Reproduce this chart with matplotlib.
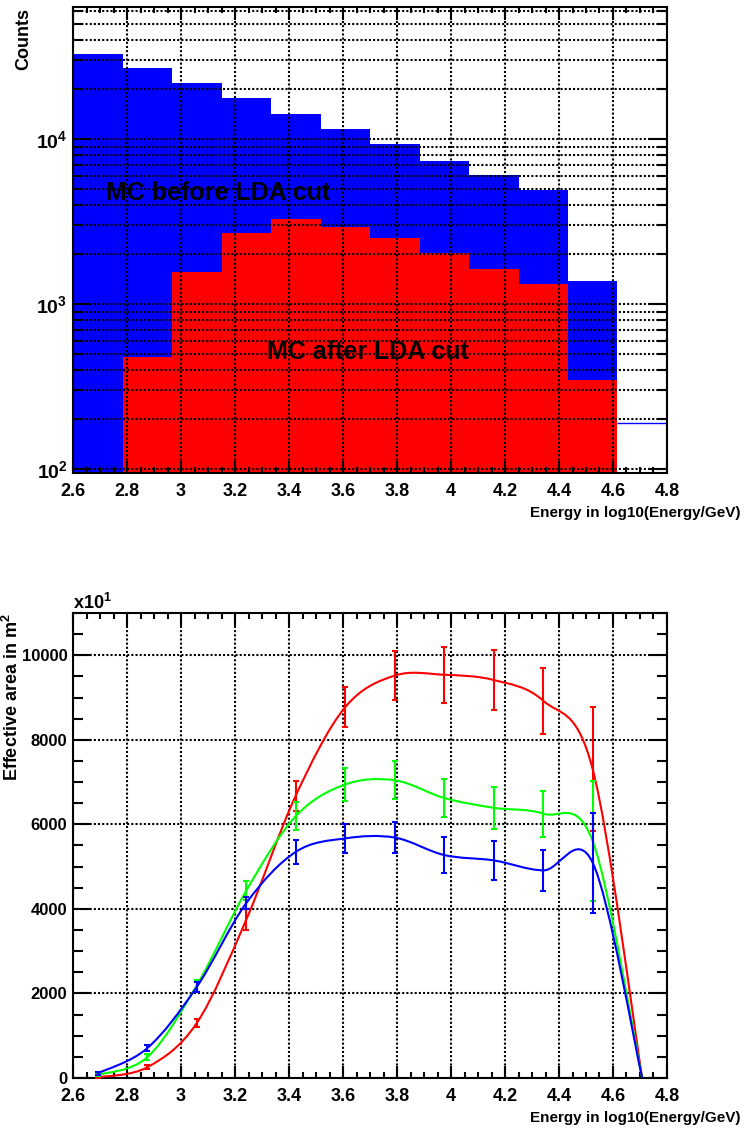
import numpy as np
import matplotlib
matplotlib.use('Agg')
import matplotlib.pyplot as plt
from matplotlib.path import Path
from matplotlib.patches import PathPatch
from matplotlib.ticker import MultipleLocator, LogLocator, NullFormatter, FormatStrFormatter

plt.rcParams['font.family'] = ['Liberation Sans Narrow', 'Liberation Sans', 'DejaVu Sans']
plt.rcParams['font.weight'] = 'bold'
plt.rcParams['mathtext.fontset'] = 'custom'
plt.rcParams['mathtext.rm'] = 'Liberation Sans:bold'
plt.rcParams['mathtext.it'] = 'Liberation Sans:bold'
plt.rcParams['mathtext.bf'] = 'Liberation Sans:bold'

# histogram of log10(E/GeV), 12 bins from 2.6 to 4.8
bin_edges = np.linspace(2.6, 4.8, 13)
counts_before = [32700, 27000, 21800, 17700, 14100, 11450, 9330, 7380, 6030, 4910, 1384, 190]
counts_after = [0, 475, 1570, 2680, 3275, 2945, 2520, 2030, 1623, 1322, 343, 0]

# effective area (units of 10 m^2)
energy = [2.692, 2.875, 3.058, 3.242, 3.425, 3.608, 3.792, 3.975, 4.158, 4.342, 4.525, 4.708]
area_red = [15, 253, 1296, 3750, 6680, 8770, 9520, 9538, 9415, 8922, 7300, 0]
err_red = [20, 50, 100, 250, 355, 474, 572, 659, 699, 782, 1465, 0]
area_green = [71, 490, 2185, 4435, 6192, 6943, 7042, 6623, 6391, 6251, 5600, 0]
err_green = [25, 70, 140, 215, 332, 395, 453, 455, 498, 549, 1422, 0]
area_blue = [111, 704, 2150, 4139, 5348, 5668, 5687, 5273, 5147, 4910, 5090, 0]
err_blue = [30, 65, 110, 150, 276, 344, 375, 422, 454, 494, 1185, 0]

BLUE = '#0000ff'
RED = '#ff0000'
GREEN = '#00ff00'
grid_kw = dict(color='black', linestyle=(0, (1, 1)), linewidth=1.5)


# smooth curve through the points (like ROOT's "C" option)
def smooth_path(x, y):
    pts = np.column_stack([np.asarray(x, float), np.asarray(y, float)])
    ext = np.vstack([pts[0], pts, pts[-1]])
    verts = [pts[0]]
    codes = [Path.MOVETO]
    for i in range(len(pts) - 1):
        p0, p1, p2, p3 = ext[i], ext[i + 1], ext[i + 2], ext[i + 3]
        verts += [p1 + (p2 - p0) / 6, p2 - (p3 - p1) / 6, p2]
        codes += [Path.CURVE4] * 3
    return Path(verts, codes)


def style_axes(ax):
    for s in ax.spines.values():
        s.set_linewidth(1.5)
    ax.tick_params(which='both', direction='in', top=True, right=True, width=1.5)
    ax.tick_params(axis='x', which='major', length=9, pad=7, labelsize=13)
    ax.tick_params(axis='x', which='minor', length=4.5)
    ax.tick_params(axis='y', which='major', length=13, pad=4, labelsize=12)
    ax.tick_params(axis='y', which='minor', length=7)
    ax.xaxis.set_major_locator(MultipleLocator(0.2))
    ax.xaxis.set_minor_locator(MultipleLocator(0.05))
    ax.xaxis.set_major_formatter(FormatStrFormatter('%g'))


fig = plt.figure(figsize=(7.45, 11.36), dpi=100)

# ---- top panel: counts ----
ax1 = fig.add_axes([0.098, 0.5836, 0.7973, 0.4102])
lefts = bin_edges[:-1]
width = bin_edges[1] - bin_edges[0]
ax1.bar(lefts[:11], counts_before[:11], width=width, align='edge', color=BLUE, bottom=1, zorder=1)
ax1.hlines(counts_before[11], bin_edges[11], bin_edges[12], color=BLUE, linewidth=1, zorder=1)
ax1.bar(lefts[1:11], counts_after[1:11], width=width, align='edge', color=RED, bottom=1, zorder=1)
ax1.set_yscale('log')
ax1.set_xlim(2.6, 4.8)
ax1.set_ylim(94.6, 63000)
style_axes(ax1)
ax1.yaxis.set_major_locator(LogLocator(base=10))
ax1.yaxis.set_minor_locator(LogLocator(base=10, subs=np.arange(2, 10)))
ax1.yaxis.set_minor_formatter(NullFormatter())
ax1.tick_params(axis='y', which='major', labelsize=14)
ax1.set_axisbelow(False)
ax1.grid(True, which='major', axis='x', **grid_kw)
ax1.grid(True, which='both', axis='y', **grid_kw)
ax1.text(3.137, 4710, 'MC before LDA cut', fontsize=18, ha='center', va='center', zorder=4)
ax1.text(3.693, 512, 'MC after LDA cut', fontsize=18, ha='center', va='center', zorder=4)
ax1.text(-0.083, 0.998, 'Counts', transform=ax1.transAxes, rotation=90, ha='center', va='top',
         fontsize=13)
ax1.text(1.123, -0.086, 'Energy in log10(Energy/GeV)', transform=ax1.transAxes,
         ha='right', va='center', fontsize=11)

# ---- bottom panel: effective area ----
ax2 = fig.add_axes([0.098, 0.0511, 0.7973, 0.4093])
for area, err, col in [(area_red, err_red, RED), (area_green, err_green, GREEN),
                       (area_blue, err_blue, BLUE)]:
    ax2.add_patch(PathPatch(smooth_path(energy, area), fill=False, edgecolor=col,
                            linewidth=1.5, zorder=3))
    e = np.asarray(err)
    m = e > 0
    ax2.errorbar(np.asarray(energy)[m], np.asarray(area)[m], yerr=e[m], fmt='none',
                 ecolor=col, elinewidth=1.5, capsize=2.5, capthick=1.5, zorder=3)
ax2.set_xlim(2.6, 4.8)
ax2.set_ylim(0, 11000)
style_axes(ax2)
ax2.yaxis.set_major_locator(MultipleLocator(2000))
ax2.yaxis.set_minor_locator(MultipleLocator(500))
ax2.grid(True, which='major', **grid_kw)
ax2.text(0.0, 1.0, r'x10$^{1}$', transform=ax2.transAxes, ha='left', va='bottom', fontsize=13)
ax2.text(-0.103, 1.0, r'Effective area in m$^{2}$', transform=ax2.transAxes, rotation=90,
         ha='center', va='top', fontsize=13)
ax2.text(1.123, -0.086, 'Energy in log10(Energy/GeV)', transform=ax2.transAxes,
         ha='right', va='center', fontsize=11)

fig.savefig('out.png', dpi=100)
